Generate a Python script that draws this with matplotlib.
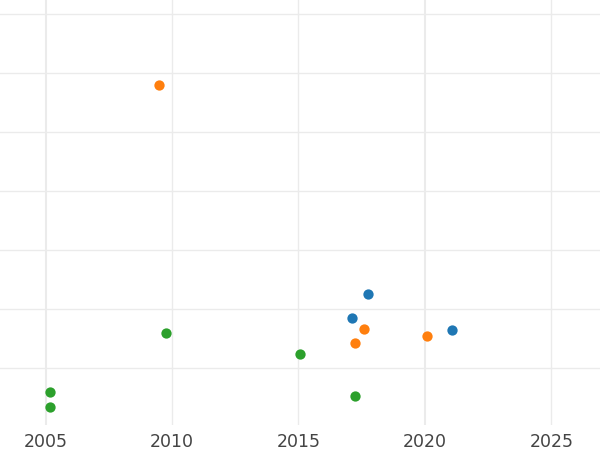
import matplotlib
matplotlib.use("Agg")
import matplotlib.pyplot as plt

# data (x in years, y in gridline units)
blue_x = [2017.75, 2017.11, 2021.07]
blue_y = [1.25, 0.85, 0.64]
orange_x = [2009.49, 2017.59, 2017.23, 2020.08]
orange_y = [4.80, 0.66, 0.42, 0.54]
green_x = [2005.18, 2005.18, 2009.76, 2015.06, 2017.23]
green_y = [-0.41, -0.66, 0.59, 0.24, -0.47]

x_ticks = [2005, 2010, 2015, 2020, 2025]
y_grid = [0, 1, 2, 3, 4, 5, 6]

fig = plt.figure(figsize=(6, 4.5), dpi=100)
ax = fig.add_axes([0, 25 / 450, 1, 425 / 450])

ax.set_xlim(2003.2, 2026.92)
ax.set_ylim(-0.97, 6.24)

for y in y_grid:
    ax.axhline(y, color="#ebebeb", lw=1, zorder=0)
for x in x_ticks:
    lw = 1.5 if x in (2005, 2020) else 1
    ax.axvline(x, color="#ebebeb", lw=lw, zorder=0)

ax.scatter(blue_x, blue_y, s=55, color="#1f77b4", zorder=3, linewidths=0)
ax.scatter(orange_x, orange_y, s=55, color="#ff7f0e", zorder=3, linewidths=0)
ax.scatter(green_x, green_y, s=55, color="#2ca02c", zorder=3, linewidths=0)

ax.set_xticks(x_ticks)
ax.set_xticklabels([str(t) for t in x_ticks])
ax.set_yticks([])
ax.tick_params(axis="x", length=0, pad=6, labelsize=12.5, labelcolor="#444444")
for s in ax.spines.values():
    s.set_visible(False)

fig.savefig("out.png", dpi=100)
